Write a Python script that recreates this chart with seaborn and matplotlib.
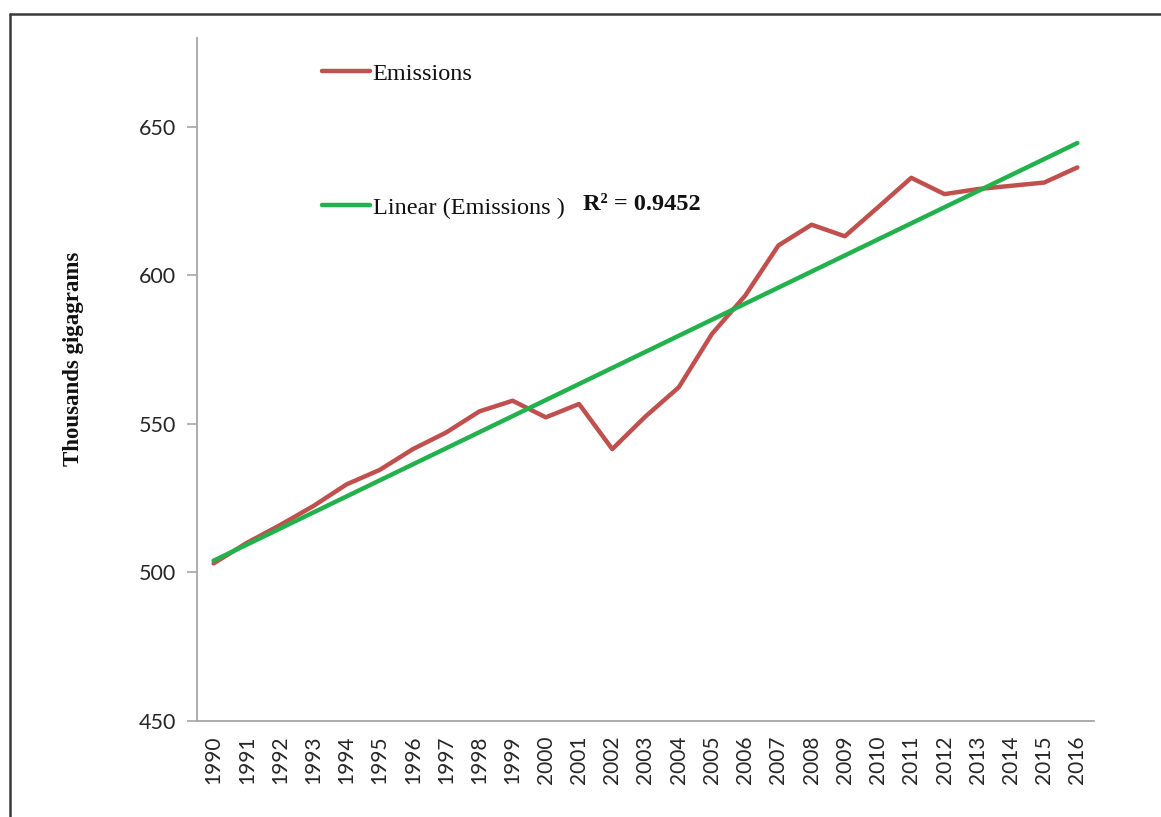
import numpy as np
import matplotlib
matplotlib.use("Agg")
import matplotlib.pyplot as plt
from matplotlib.lines import Line2D
import seaborn as sns
import pandas as pd

# data
years = [str(y) for y in range(1990, 2017)]
emissions = [503.0, 509.9, 515.9, 522.3, 529.6, 534.5, 541.5, 547.1, 554.2, 557.8,
             552.2, 556.7, 541.5, 552.5, 562.3, 580.3, 593.2, 610.1, 617.1, 613.2,
             623.0, 632.9, 627.4, 629.1, 630.2, 631.3, 636.4]
r2_label = "R² = 0.9452"
y_ticks = [450, 500, 550, 600, 650]

RED = "#C0504D"
GREEN = "#22B14C"
AXIS = "#A6A6A6"

sns.set_style("white")
plt.rcParams["font.family"] = ["Lato", "DejaVu Sans"]

df = pd.DataFrame({"year": years, "emissions": emissions})
pos = np.arange(len(years))
slope, icpt = np.polyfit(pos, df["emissions"], 1)
df["trend"] = icpt + slope * pos

fig = plt.figure(figsize=(11.61, 8.17), dpi=100)
ax = fig.add_axes([197 / 1161, 1 - 720.7 / 817, 897 / 1161, (720.7 - 38) / 817])

sns.lineplot(data=df, x="year", y="emissions", color=RED, linewidth=3.2,
             label="Emissions", ax=ax, sort=False)
sns.lineplot(data=df, x="year", y="trend", color=GREEN, linewidth=3.2,
             label="Linear (Emissions )", ax=ax, sort=False)

ax.set_xlim(-0.5, len(years) - 0.5)
ax.set_ylim(450, 680)
ax.set_yticks(y_ticks)
ax.set_yticklabels([str(v) for v in y_ticks], fontsize=15.5, color="#262626")

# excel-style category axis: ticks on boundaries, labels in between
ax.set_xticks(np.arange(-0.5, len(years), 1))
ax.set_xticklabels([])
ax.set_xticks(pos, minor=True)
ax.set_xticklabels(years, minor=True, rotation=90, fontsize=15, color="#262626")
ax.tick_params(axis="x", which="major", length=8, width=1.2, color=AXIS, direction="out")
ax.tick_params(axis="x", which="minor", length=0, pad=11)
ax.tick_params(axis="y", length=7, width=1.2, color=AXIS, direction="out", pad=8, left=True)

for s in ["top", "right"]:
    ax.spines[s].set_visible(False)
for s in ["left", "bottom"]:
    ax.spines[s].set_color(AXIS)
    ax.spines[s].set_linewidth(1.3)

ax.set_xlabel("")
ax.set_ylabel("Thousands gigagrams", fontsize=16.5, fontweight="bold",
              family="Liberation Serif", color="#111111")
ax.yaxis.set_label_coords(-0.126, 0.53)

leg = ax.legend(loc="upper left", bbox_to_anchor=(0.128, 0.978), frameon=False,
                prop={"family": "Liberation Serif", "size": 17.5},
                handlelength=2.0, handletextpad=0.1, labelspacing=4.6,
                borderaxespad=0)
for t in leg.get_texts():
    t.set_color("#111111")

fig.text(583 / 1161, 1 - 204 / 817, r2_label, fontsize=17.5, fontweight="bold",
         family="Liberation Serif", va="center", color="#111111")

# outer chart frame (only top and left visible in the crop)
fig.add_artist(Line2D([10 / 1161, 1.0], [1 - 14 / 817, 1 - 14 / 817],
                      transform=fig.transFigure, color="#3a3a3a", linewidth=1.8))
fig.add_artist(Line2D([10 / 1161, 10 / 1161], [1 - 14 / 817, 0.0],
                      transform=fig.transFigure, color="#3a3a3a", linewidth=1.8))

fig.savefig("out.png", dpi=100)
